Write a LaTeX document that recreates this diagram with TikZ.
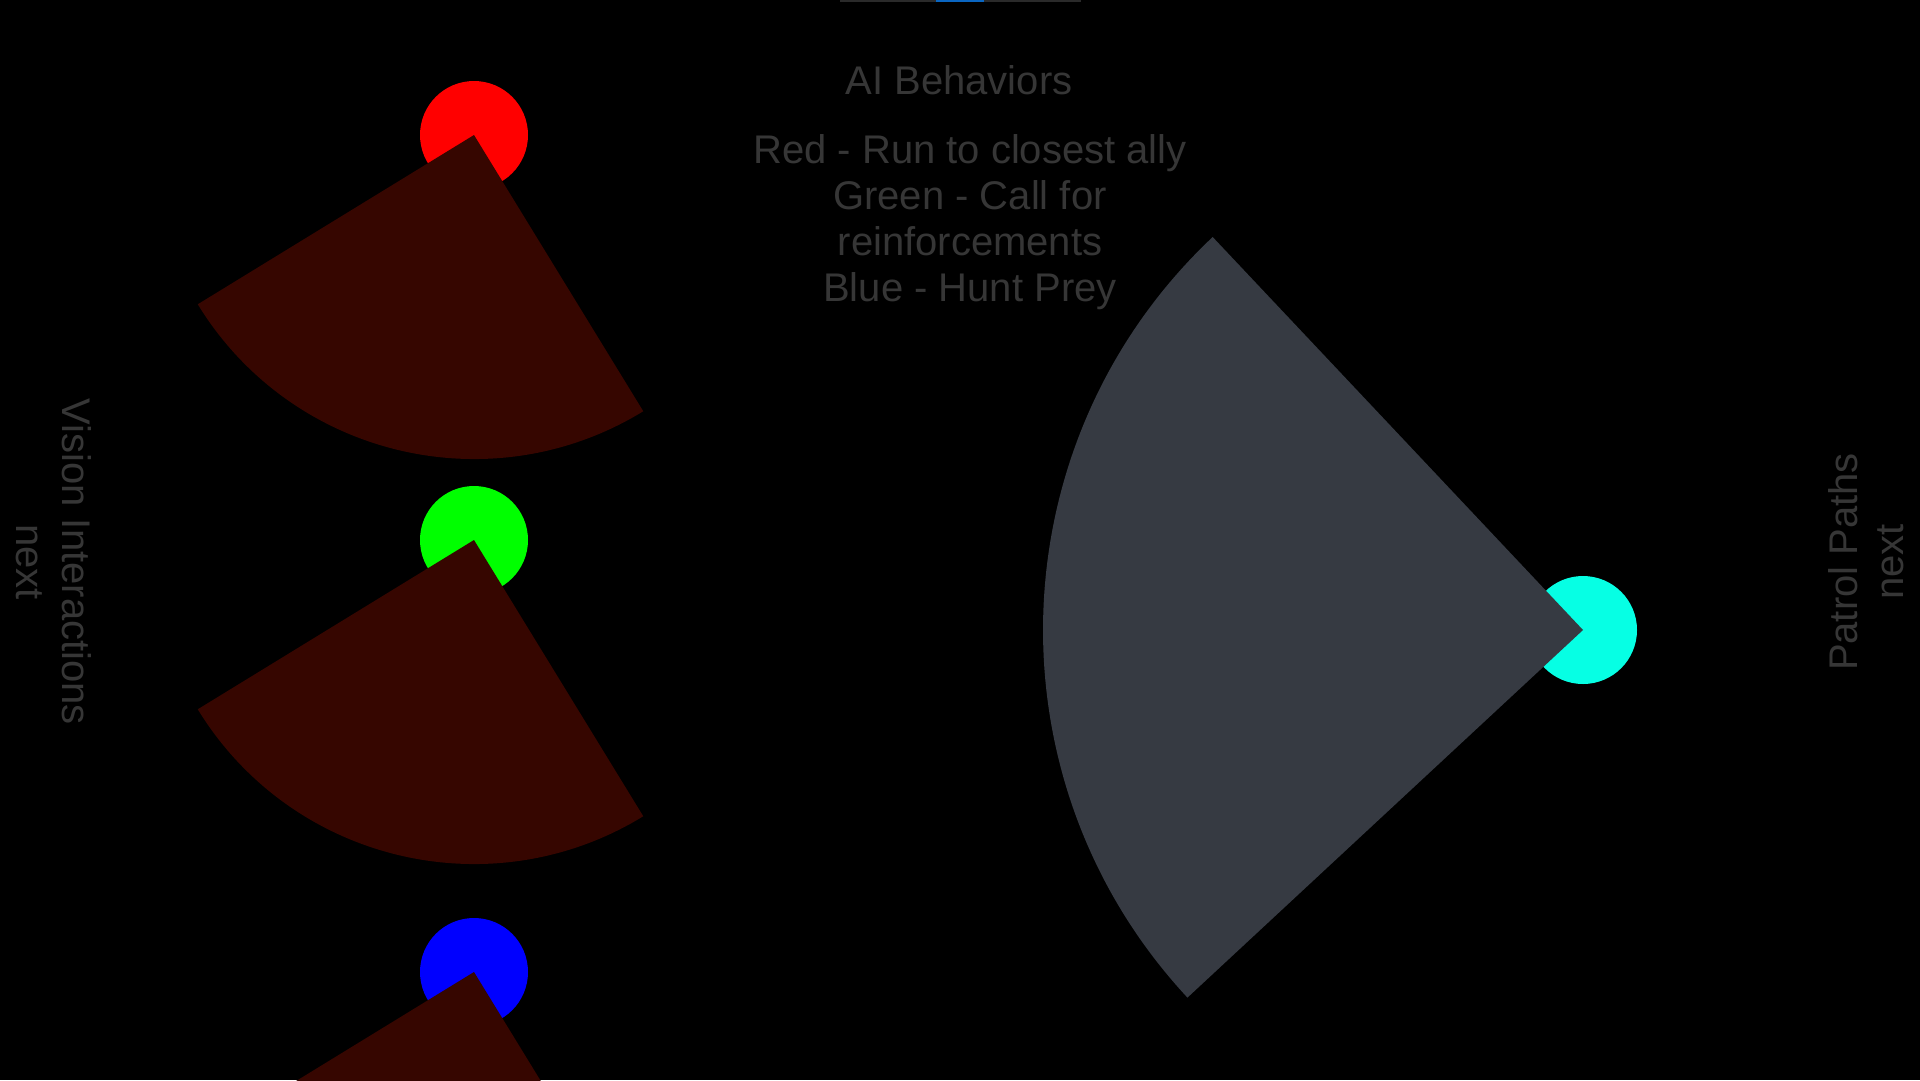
\documentclass[tikz,border=0pt]{standalone}
\usepackage{fontspec}
\setmainfont{Liberation Sans}
\definecolor{txtgray}{RGB}{54,54,54}
\definecolor{conered}{RGB}{54,6,0}
\definecolor{conegray}{RGB}{54,58,66}
\definecolor{aicyan}{RGB}{6,255,228}
\definecolor{bargray}{RGB}{42,42,42}
\definecolor{barblue}{RGB}{10,102,194}
\tikzset{
  lbl/.style={text=txtgray, inner sep=0pt, align=center, font=\fontsize{40}{46}\selectfont},
  agent/.style={draw=none},
}
\begin{document}
\begin{tikzpicture}[x=1pt,y=1pt]
\fill[black] (0,0) rectangle (1920,-1080);
\useasboundingbox (0,0) rectangle (1920,-1080);
\clip (0,0) rectangle (1920,-1080);
% top bar
\fill[bargray] (840,0) rectangle (1081,-1.5);
\fill[barblue] (936,0) rectangle (984,-1.5);
% agents (circles)
\fill[red] (474,-135) circle[radius=54];
\fill[green] (474,-540) circle[radius=54];
\fill[blue] (474,-972) circle[radius=54];
\fill[aicyan] (1583,-630) circle[radius=54];
% vision cones
\fill[conered] (474,-135) -- ++(211.5:324) arc[start angle=211.5, end angle=301.5, radius=324] -- cycle;
\fill[conered] (474,-540) -- ++(211.5:324) arc[start angle=211.5, end angle=301.5, radius=324] -- cycle;
\fill[conered] (474,-972) -- ++(211.5:324) arc[start angle=211.5, end angle=301.5, radius=324] -- cycle;
\fill[conegray] (1583,-630) -- ++(133.3:540) arc[start angle=133.3, end angle=222.9, radius=540] -- cycle;
% texts
\node[lbl, anchor=base] (title) at (959,-94) {AI Behaviors};
\node[lbl, anchor=north] (legend) at (970,-134) {Red - Run to closest ally\\Green - Call for\\reinforcements\\Blue - Hunt Prey};
\node[lbl, rotate=-90] (vision) at (54,-562) {Vision Interactions\\next};
\node[lbl, rotate=90] (patrol) at (1866,-562) {Patrol Paths\\next};
\end{tikzpicture}
\end{document}
